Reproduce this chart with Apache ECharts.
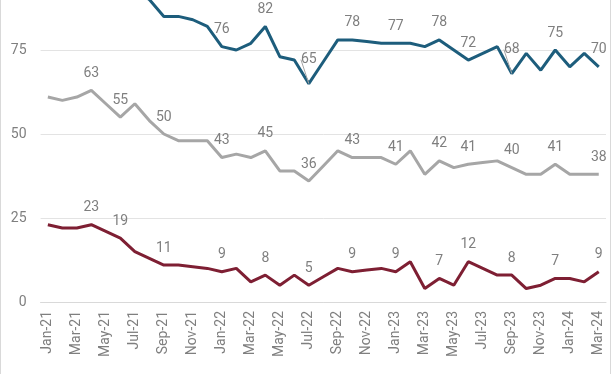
<!DOCTYPE html>
<html>
<head>
<meta charset="utf-8">
<script src="https://cdn.jsdelivr.net/npm/echarts@6/dist/echarts.min.js"></script>
<style>
html,body{margin:0;padding:0;background:#fff;overflow:hidden;width:612px;height:374px;}
#wrap{position:relative;width:612px;height:374px;overflow:hidden;}
#c{position:absolute;left:0;top:-41px;width:612px;height:415px;}
</style>
</head>
<body>
<div id="wrap"><div id="c"></div></div>
<script>
var categories = ["Jan-21","Feb-21","Mar-21","Apr-21","May-21","Jun-21","Jul-21","Aug-21","Sep-21","Oct-21","Nov-21","Dec-21",
  "Jan-22","Feb-22","Mar-22","Apr-22","May-22","Jun-22","Jul-22","Aug-22","Sep-22","Oct-22","Nov-22","Dec-22",
  "Jan-23","Feb-23","Mar-23","Apr-23","May-23","Jun-23","Jul-23","Aug-23","Sep-23","Oct-23","Nov-23","Dec-23",
  "Jan-24","Feb-24","Mar-24"];
var blueValues = [95,94,95,96,95,94,93,90,85,85,84,82,76,75,77,82,73,72,65,71.5,78,78,77.5,77,77,77,76,78,75,72,74,76,68,74,69,75,70,74,70];
var grayValues = [61,60,61,63,59,55,59,54,50,48,48,48,43,44,43,45,39,39,36,40.5,45,43,43,43,41,45,38,42,40,41,41.5,42,40,38,38,41,38,38,38];
var redValues = [23,22,22,23,21,19,15,13,11,11,10.5,10,9,10,6,8,5,8,5,7.5,10,9,9.5,10,9,12,4,7,5,12,10,8,8,4,5,7,7,6,9];
var labelIndices = [3,5,8,12,15,18,21,24,27,29,32,35,38];
var blueLabelIndices = [12,15,18,21,24,27,29,32,35,38];
var raisedBlueLabels = [18,32];
var yTicks = [0,25,50,75,100];

var txt = '#7f7f7f';
var font = 'Roboto';
function mk(vals, idx, raised){
  return vals.map(function(v,i){
    var item = {value:v};
    if(idx.indexOf(i) >= 0){ item.label = {show:true}; }
    if(raised && raised.indexOf(i) >= 0){ item.labelLine = {show:true}; }
    return item;
  });
}
function series(name, vals, color, idx, raised){
  return {
    name:name, type:'line', data:mk(vals, idx, raised), symbol:'circle', symbolSize:0, showSymbol:true,
    lineStyle:{color:color,width:3}, itemStyle:{color:color},
    label:{show:false, position:'top', distance:10, color:txt, fontSize:14, fontFamily:font},
    labelLine:{show:false, lineStyle:{color:'#a6a6a6', width:1}},
    labelLayout: function(p){
      if(raised && raised.indexOf(p.dataIndex) >= 0){ return {dy:-7}; }
      return {};
    },
    animation:false, z: 3
  };
}
var chart = echarts.init(document.getElementById('c'));
chart.setOption({
  backgroundColor:'#fff',
  animation:false,
  grid:{left:40, right:6, top:0, bottom:72, containLabel:false},
  xAxis:{type:'category', data:categories, boundaryGap:true,
    axisLine:{show:true, lineStyle:{color:'#d9d9d9', width:1}},
    axisTick:{show:false},
    axisLabel:{interval:1, rotate:90, color:txt, fontSize:14, fontFamily:font, margin:9}
  },
  yAxis:{type:'value', min:yTicks[0], max:yTicks[yTicks.length-1], interval:25,
    axisLine:{show:false}, axisTick:{show:false},
    splitLine:{lineStyle:{color:'#e3e3e3', width:1}},
    axisLabel:{color:txt, fontSize:14, fontFamily:font, margin:14}
  },
  series:[
    series('Blue', blueValues, '#1d5d7c', blueLabelIndices, raisedBlueLabels),
    series('Gray', grayValues, '#a6a6a6', labelIndices, null),
    series('Red', redValues, '#7e1f33', labelIndices, null)
  ],
  graphic:[
    {type:'rect', shape:{x:0.5,y:0,width:610,height:420}, style:{fill:'none', stroke:'#d9d9d9', lineWidth:1}, silent:true, z:-1}
  ]
});
</script>
</body>
</html>
